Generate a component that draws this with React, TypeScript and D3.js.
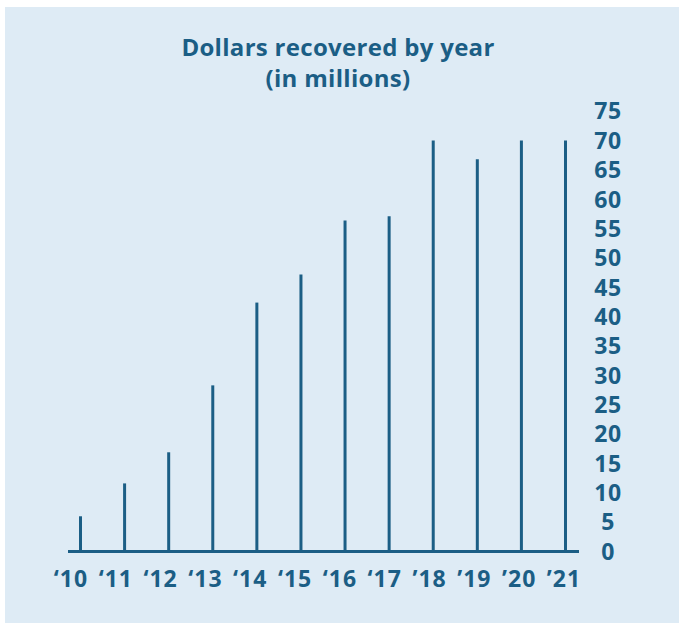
import React from "react";
import * as d3 from "d3";

const years = ["‘10", "‘11", "‘12", "‘13", "‘14", "‘15", "‘16", "‘17", "’18", "’19", "’20", "’21"];
const values = [6, 11.6, 16.9, 28.3, 42.4, 47.2, 56.4, 57.1, 70, 66.8, 70, 70];
const yTicks = [0, 5, 10, 15, 20, 25, 30, 35, 40, 45, 50, 55, 60, 65, 70, 75];
const titleLines = ["Dollars recovered by year", "(in millions)"];

const DARK = "#1b5e85";
const BG = "#deebf5";
const FONT = "'Open Sans', 'Noto Sans', sans-serif";

export default function App() {
  const W = 680, H = 624;
  const x = d3.scalePoint<string>().domain(years).range([80.5, 565.5]);
  const xl = d3.scalePoint<string>().domain(years).range([71, 564]);
  const y = d3.scaleLinear().domain([0, 75]).range([551.5, 111.2]);

  return (
    <svg width={W} height={H} style={{ position: "absolute", left: 0, top: 0 }}>
      <rect x={0} y={0} width={W} height={H} fill="#ffffff" />
      <rect x={5} y={7} width={674} height={616} fill={BG} />
      {titleLines.map((t, i) => (
        <text key={i} x={338} y={56 + i * 31} textAnchor="middle" fontFamily={FONT}
          fontWeight={700} fontSize={24} letterSpacing={0.3} fill={DARK}>{t}</text>
      ))}
      {values.map((v, i) => (
        <line key={i} x1={x(years[i])} x2={x(years[i])} y1={y(0)} y2={y(v)}
          stroke={DARK} strokeWidth={3} />
      ))}
      <line x1={68} x2={579} y1={y(0)} y2={y(0)} stroke={DARK} strokeWidth={3} />
      {years.map((yr) => (
        <text key={yr} x={xl(yr)} y={587} textAnchor="middle" fontFamily={FONT}
          fontWeight={700} fontSize={23} letterSpacing={1} fill={DARK}>{yr}</text>
      ))}
      {yTicks.map((t) => (
        <text key={t} x={608} y={y(t)} dy="0.36em" textAnchor="middle" fontFamily={FONT}
          fontWeight={700} fontSize={23} letterSpacing={0.5} fill={DARK}>{t}</text>
      ))}
    </svg>
  );
}
